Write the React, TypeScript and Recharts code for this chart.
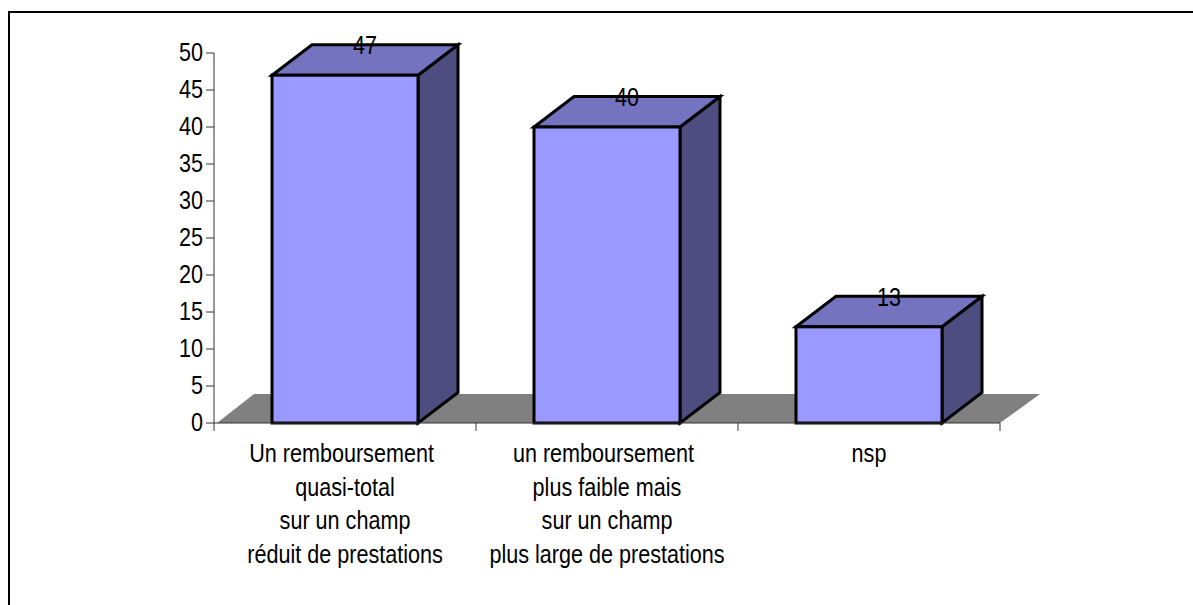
import React from 'react';
import { BarChart, Bar, XAxis, YAxis, LabelList, ReferenceArea } from 'recharts';

const categories = [
  'Un remboursement\nquasi-total\nsur un champ\nréduit de prestations',
  'un remboursement\nplus faible mais\nsur un champ\nplus large de prestations',
  'nsp',
];
const values = [47, 40, 13];
const yTicks = [0, 5, 10, 15, 20, 25, 30, 35, 40, 45, 50];
const data = categories.map((name, i) => ({ name, value: values[i] }));

const DX = 40;
const DY = 30.5;
const FLOOR_DY = 29;
const BAND = 262;
const FONT = '"Liberation Sans", Arial, sans-serif';
const FS = 21.6;
const SY = 1.18;

const Box3D = (props: any) => {
  const { x, y, width, height } = props;
  const r = x + width;
  const b = y + height;
  return (
    <g stroke="#000" strokeWidth={3} strokeLinejoin="miter">
      <polygon points={`${r},${y} ${r + DX},${y - DY} ${r + DX},${b - DY} ${r},${b}`} fill="#4d4d7f" />
      <polygon points={`${x},${y} ${x + DX},${y - DY} ${r + DX},${y - DY} ${r},${y}`} fill="#7373bf" />
      <rect x={x} y={y} width={width} height={height} fill="#9999ff" />
    </g>
  );
};

const Floor = (props: any) => {
  const { x, y, width } = props;
  return (
    <polygon
      points={`${x + 3},${y} ${x + DX},${y - FLOOR_DY} ${x + width + DX},${y - FLOOR_DY} ${x + width},${y}`}
      fill="#808080"
      stroke="none"
    />
  );
};

const Txt = ({ x, y, anchor = 'middle', children }: any) => (
  <text
    transform={`translate(${x},${y}) scale(1,${SY})`}
    textAnchor={anchor}
    fontFamily={FONT}
    fontSize={FS}
    fill="#000"
  >
    {children}
  </text>
);

const CatTick = (props: any) => {
  const { x, y, payload, index } = props;
  const lines = String(payload.value).split('\n');
  const axisY = y - 9;
  return (
    <g>
      <line x1={x - BAND / 2} x2={x - BAND / 2} y1={axisY} y2={axisY + 8} stroke="#333" />
      {index === categories.length - 1 && (
        <line x1={x + BAND / 2} x2={x + BAND / 2} y1={axisY} y2={axisY + 8} stroke="#333" />
      )}
      {lines.map((l, i) => (
        <Txt key={i} x={x - (i === 0 && lines.length > 1 ? 3.5 : 0)} y={axisY + 39 + i * 33.7}>
          {l}
        </Txt>
      ))}
    </g>
  );
};

const ValTick = (props: any) => {
  const { x, y, payload } = props;
  return (
    <g>
      <line x1={x + 1} x2={x + 9} y1={y} y2={y} stroke="#333" />
      <Txt x={x - 2} y={y + 8} anchor="end">
        {payload.value}
      </Txt>
    </g>
  );
};

const ValueLabel = (props: any) => {
  const { x, y, width, value } = props;
  return (
    <Txt x={x + width / 2 + DX / 2} y={y - 21}>
      {value}
    </Txt>
  );
};

export default function App() {
  return (
    <div style={{ position: 'absolute', left: 0, top: 0, width: 1193, height: 605, background: '#fff', overflow: 'hidden' }}>
      <div style={{ position: 'absolute', left: 8, top: 11, width: 1185, height: 594, borderLeft: '2px solid #000', borderTop: '2px solid #000' }} />
      <BarChart
        width={1193}
        height={605}
        data={data}
        margin={{ top: 53, right: 193, bottom: 0, left: 174 }}
        barCategoryGap={58}
        style={{ position: 'absolute', left: 0, top: 0 }}
      >
        <ReferenceArea y1={0} y2={0} shape={<Floor />} ifOverflow="visible" />
        <XAxis
          dataKey="name"
          tick={<CatTick />}
          tickLine={false}
          axisLine={{ stroke: '#333' }}
          tickSize={0}
          tickMargin={9}
          interval={0}
          height={182}
        />
        <YAxis
          type="number"
          domain={[0, 50]}
          ticks={yTicks}
          interval={0}
          width={40}
          tick={<ValTick />}
          tickLine={false}
          axisLine={{ stroke: '#333' }}
          tickSize={0}
          tickMargin={9}
        />
        <Bar dataKey="value" shape={<Box3D />} isAnimationActive={false}>
          <LabelList dataKey="value" content={<ValueLabel />} />
        </Bar>
      </BarChart>
    </div>
  );
}
